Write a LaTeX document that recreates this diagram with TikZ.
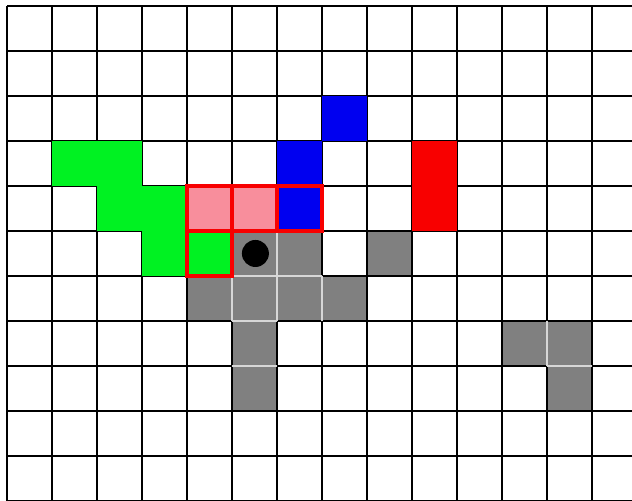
\documentclass[tikz,border=0pt]{standalone}
\usepackage{tikz}
\usepackage{xcolor}
\definecolor{cellgreen}{RGB}{0,242,34}
\definecolor{cellblue}{RGB}{0,0,240}
\definecolor{cellred}{RGB}{248,0,0}
\definecolor{cellpink}{RGB}{248,142,156}
\definecolor{cellgray}{RGB}{128,128,128}
\definecolor{innerline}{RGB}{215,215,215}
\begin{document}
\begin{tikzpicture}[x=1cm,y=1cm]
\useasboundingbox (-0.156,0.133) rectangle (13.889,-11);
\fill[white] (-0.156,0.133) rectangle (13.889,-11);
% occupied cells
\fill[cellgray] (5,-5) rectangle (6,-6);
\fill[cellgray] (6,-5) rectangle (7,-6);
\fill[cellgray] (8,-5) rectangle (9,-6);
\fill[cellgray] (4,-6) rectangle (5,-7);
\fill[cellgray] (5,-6) rectangle (6,-7);
\fill[cellgray] (6,-6) rectangle (7,-7);
\fill[cellgray] (7,-6) rectangle (8,-7);
\fill[cellgray] (5,-7) rectangle (6,-8);
\fill[cellgray] (5,-8) rectangle (6,-9);
\fill[cellgray] (11,-7) rectangle (12,-8);
\fill[cellgray] (12,-7) rectangle (13,-8);
\fill[cellgray] (12,-8) rectangle (13,-9);
% grid
\draw[line width=1.2pt] (0,0) grid (13.889,-11);
% light lines inside the gray blocks
\draw[innerline,line width=1.1pt] (6,-5) -- (6,-6);
\draw[innerline,line width=1.1pt] (5,-6) -- (7,-6);
\draw[innerline,line width=1.1pt] (5,-6) -- (5,-7);
\draw[innerline,line width=1.1pt] (6,-6) -- (6,-7);
\draw[innerline,line width=1.1pt] (7,-6) -- (7,-7);
\draw[innerline,line width=1.1pt] (5,-7) -- (6,-7);
\draw[innerline,line width=1.1pt] (5,-8) -- (6,-8);
\draw[innerline,line width=1.1pt] (12,-7) -- (12,-8);
\draw[innerline,line width=1.1pt] (12,-8) -- (13,-8);
% coloured cells, over the grid
\fill[cellblue] (7,-2) rectangle (8,-3);
\fill[cellblue] (6,-3) rectangle (7,-4);
\fill[cellblue] (6,-4) rectangle (7,-5);
\fill[cellred] (9,-3) rectangle (10,-5);
\fill[cellgreen] (1,-3) rectangle (3,-4);
\fill[cellgreen] (2,-4) rectangle (4,-5);
\fill[cellgreen] (3,-5) rectangle (5,-6);
\fill[cellgreen] (2,-3) rectangle (3,-5);
\fill[cellgreen] (3,-4) rectangle (4,-6);
\fill[cellpink] (4,-4) rectangle (6,-5);
% red frames
\draw[cellred,line width=2.2pt] (4,-4) rectangle (5,-5);
\draw[cellred,line width=2.2pt] (5,-4) rectangle (6,-5);
\draw[cellred,line width=2.2pt] (6,-4) rectangle (7,-5);
\draw[cellred,line width=2.2pt] (4,-5) rectangle (5,-6);
% robot
\fill[black] (5.52,-5.5) circle (0.3);
\end{tikzpicture}
\end{document}
